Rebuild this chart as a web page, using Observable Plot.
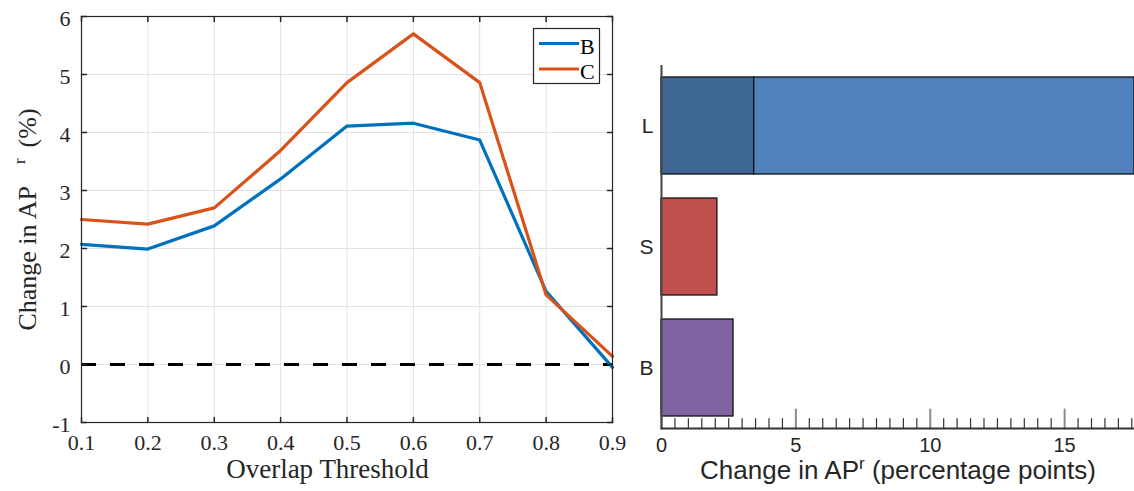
<!DOCTYPE html>
<html><head><meta charset="utf-8">
<script src="https://cdn.jsdelivr.net/npm/d3@7"></script>
<script src="https://cdn.jsdelivr.net/npm/@observablehq/plot@0.6"></script>
<style>
body{margin:0;background:#fff;}
#wrap{position:relative;width:1134px;height:491px;overflow:hidden;background:#fff;}
#left{position:absolute;left:0;top:0;}
#right{position:absolute;left:620px;top:0;}
</style></head><body>
<div id="wrap"><div id="left"></div><div id="right"></div></div>
<script>
// ---- Left chart data ----
const thresholds = [0.1, 0.2, 0.3, 0.4, 0.5, 0.6, 0.7, 0.8, 0.9];
const seriesB = [2.07, 1.99, 2.39, 3.20, 4.11, 4.16, 3.87, 1.26, -0.05];
const seriesC = [2.50, 2.42, 2.70, 3.69, 4.86, 5.70, 4.86, 1.20, 0.14];
const seriesNames = ["B", "C"];
const seriesColors = ["#0072BD", "#D95319"];
const xTicks = [0.1, 0.2, 0.3, 0.4, 0.5, 0.6, 0.7, 0.8, 0.9];
const yTicks = [-1, 0, 1, 2, 3, 4, 5, 6];

// ---- Right chart data ----
const categories = ["L", "S", "B"];
const baseValues = [3.45, 2.08, 2.68];
const baseColors = ["#3E6796", "#C0504D", "#8064A2"];
const lTotal = 17.6;
const lExtraColor = "#4F81BD";
const barMajorTicks = [0, 5, 10, 15];
const barMinorTicks = [0.5,1,1.5,2,2.5,3,3.5,4,4.5,5.5,6,6.5,7,7.5,8,8.5,9,9.5,10.5,11,11.5,12,12.5,13,13.5,14,14.5,15.5,16,16.5,17,17.5];

const serif = "'Liberation Serif','Times New Roman',serif";
const sans = "'Liberation Sans',Arial,Helvetica,sans-serif";

const lineData = [];
thresholds.forEach((t, i) => {
  lineData.push({t, v: seriesB[i], s: seriesNames[0]});
});
thresholds.forEach((t, i) => {
  lineData.push({t, v: seriesC[i], s: seriesNames[1]});
});

const yLabel = "Change in AP (%)";
const left = Plot.plot({
  width: 640, height: 491,
  marginLeft: 81, marginRight: 28, marginTop: 16, marginBottom: 69,
  style: {background: "transparent", overflow: "visible", fontFamily: serif, color: "#262626"},
  x: {domain: [0.1, 0.9]},
  y: {domain: [-1, 6]},
  color: {domain: seriesNames, range: seriesColors},
  marks: [
    Plot.gridX(xTicks, {stroke: "#e2e2e2", strokeOpacity: 1}),
    Plot.gridY(yTicks, {stroke: "#e2e2e2", strokeOpacity: 1}),
    Plot.ruleY([0], {stroke: "black", strokeWidth: 3, strokeDasharray: "15,14"}),
    Plot.line(lineData, {x: "t", y: "v", stroke: "s", z: "s", strokeWidth: 3.2}),
    Plot.frame({stroke: "#262626", strokeWidth: 1.2}),
    Plot.vector(xTicks, {x: d => d, frameAnchor: "bottom", rotate: 0, length: 5, anchor: "start", r: 0, stroke: "#262626"}),
    Plot.vector(xTicks, {x: d => d, frameAnchor: "top", rotate: 180, length: 5, anchor: "start", r: 0, stroke: "#262626"}),
    Plot.vector(yTicks, {y: d => d, frameAnchor: "left", rotate: 90, length: 5, anchor: "start", r: 0, stroke: "#262626"}),
    Plot.vector(yTicks, {y: d => d, frameAnchor: "right", rotate: -90, length: 5, anchor: "start", r: 0, stroke: "#262626"}),
    Plot.axisX(xTicks, {tickSize: 0, tickPadding: 12, fontSize: 22, tickFormat: d => d.toFixed(1), label: null}),
    Plot.axisY(yTicks, {tickSize: 0, tickPadding: 11, dy: 2.5, fontSize: 22, tickFormat: d => String(d), label: null}),
    Plot.text(["Overlap Threshold"], {text: d => d, frameAnchor: "bottom", dx: -19.5, dy: 55, fontSize: 27, fill: "#262626"}),
    Plot.text([yLabel], {text: d => d, frameAnchor: "left", textAnchor: "middle", dx: -54, rotate: -90, fontSize: 26, fill: "#262626"})
  ]
});
document.getElementById("left").appendChild(left);

// ---- Right chart ----
const barRows = categories.map((c, i) => ({cat: c, x1: 0, x2: baseValues[i], fill: baseColors[i]}));
barRows.push({cat: categories[0], x1: baseValues[0], x2: lTotal, fill: lExtraColor});

const xLabel = "Change in AP (percentage points)";
const right = Plot.plot({
  width: 514, height: 491,
  marginLeft: 41, marginRight: 0, marginTop: 65, marginBottom: 63,
  style: {background: "transparent", overflow: "visible", fontFamily: sans, color: "#262626"},
  x: {domain: [0, lTotal]},
  y: {domain: categories, paddingInner: 0.2, paddingOuter: 0.1},
  marks: [
    Plot.barX(barRows, {y: "cat", x1: "x1", x2: "x2", fill: "fill", stroke: "#111", strokeWidth: 1.3}),
    Plot.vector(barMinorTicks, {x: d => d, frameAnchor: "bottom", rotate: 0, length: 10, anchor: "start", r: 0, stroke: "#333", strokeWidth: 1.2}),
    Plot.vector(barMajorTicks, {x: d => d, frameAnchor: "bottom", rotate: 0, length: 19, anchor: "start", r: 0, stroke: "#8a8a8a", strokeWidth: 2}),
    Plot.ruleX([0], {stroke: "#444", strokeWidth: 2}),
    Plot.frame({anchor: "bottom", stroke: "#333", strokeWidth: 2}),
    Plot.axisX(barMajorTicks, {tickSize: 0, tickPadding: 9, fontSize: 20, label: null}),
    Plot.axisY(categories, {tickSize: 0, tickPadding: 8, fontSize: 21, label: null}),
    Plot.text([xLabel], {text: d => d, frameAnchor: "bottom", dy: 50, fontSize: 26, fill: "#262626"})
  ]
});
document.getElementById("right").appendChild(right);

// superscripts
function supLabel(svg, match, parts) {
  d3.select(svg).selectAll("text").filter(function () { return this.textContent === match; }).each(function () {
    const el = d3.select(this);
    el.text(null);
    parts.forEach(p => {
      const ts = el.append("tspan").text(p.t);
      if (p.dx) ts.attr("dx", p.dx);
      if (p.dy) ts.attr("dy", p.dy);
      if (p.size) ts.attr("font-size", p.size);
    });
  });
}
supLabel(left, yLabel, [
  {t: "Change in AP"},
  {t: "r", dx: 22, dy: -11, size: 17},
  {t: "(%)", dx: 11, dy: 11, size: 26}
]);
supLabel(right, xLabel, [
  {t: "Change in AP"},
  {t: "r", dy: -10, size: 17},
  {t: " (percentage points)", dy: 10, size: 26}
]);

// legend
const lg = d3.select(left).append("g");
lg.append("rect").attr("x", 533.5).attr("y", 28.5).attr("width", 66).attr("height", 55)
  .attr("fill", "white").attr("stroke", "#262626").attr("stroke-width", 1.2);
seriesNames.forEach((n, i) => {
  const y = 43.5 + i * 25.5;
  lg.append("line").attr("x1", 539).attr("x2", 579).attr("y1", y).attr("y2", y)
    .attr("stroke", seriesColors[i]).attr("stroke-width", 3);
  lg.append("text").attr("x", 580).attr("y", y + 10).attr("font-size", 22)
    .attr("text-anchor", "start").attr("font-family", serif).attr("fill", "#000").text(n);
});
</script>
</body></html>
